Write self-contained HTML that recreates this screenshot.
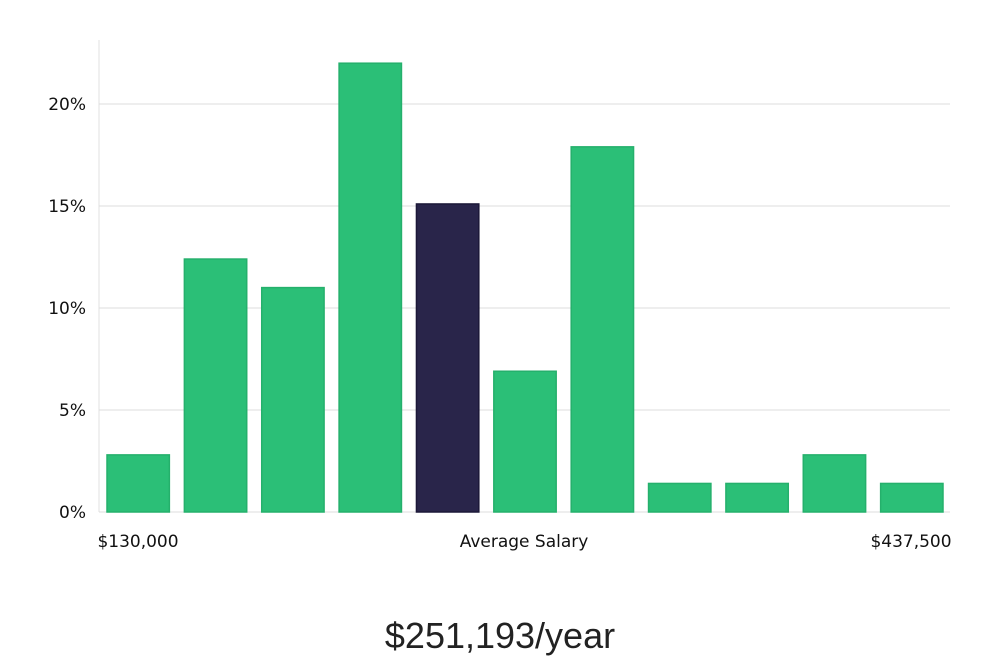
<!DOCTYPE html>
<html><head><meta charset="utf-8"><style>
body{margin:0;background:#fff;width:1000px;height:660px;overflow:hidden;font-family:"DejaVu Sans","Liberation Sans",sans-serif}
</style></head><body>
<svg width="1000" height="660">
<g id="grid"></g><g id="bars"></g><g id="labels"></g>
<text x="500" y="648" text-anchor="middle" font-size="36" fill="#222" font-family="'Liberation Sans',sans-serif" font-weight="300">$251,193/year</text>
</svg>
<script>
const categories=["b1","b2","b3","b4","b5","b6","b7","b8","b9","b10","b11"];
const values=[2.8,12.4,11.0,22.0,15.1,6.9,17.9,1.4,1.4,2.8,1.4];
const highlight=[false,false,false,false,true,false,false,false,false,false,false];
const yTicks=[0,5,10,15,20];
const xLabels=["$130,000","Average Salary","$437,500"];
const NS="http://www.w3.org/2000/svg";
const x0=99,x1=950,y0=512,pxPer=20.4;
const y=v=>y0-v*pxPer;
const band=(x1-x0)/categories.length;
const bx=i=>x0+i*band;
function mk(t,a,p){const e=document.createElementNS(NS,t);for(const k in a)e.setAttribute(k,a[k]);p.appendChild(e);return e;}
const grid=document.getElementById('grid'),bars=document.getElementById('bars'),labels=document.getElementById('labels');
const ax=mk('line',{x1:x0,x2:x0,y1:40,y2:y0,stroke:'#e0e0e0'},grid);


yTicks.forEach(t=>{
 const l=mk('line',{x1:x0,x2:x1,y1:y(t),y2:y(t),stroke:'#dcdcdc'},grid);
 
 
 const tx=mk('text',{x:86,y:y(t)+6,'text-anchor':'end','font-size':17,fill:'#111'},labels);
 tx.textContent=t+'%';
 
 
});
values.forEach((v,i)=>{
 const r=mk('rect',{x:bx(i)+8,y:y(v),width:band-15,height:y0-y(v),fill:highlight[i]?'#29254a':'#2bbf77',stroke:highlight[i]?'#1c1838':'#25b06c','stroke-width':1.5},bars);
 
 
});
const xpos=[[138,'middle'],[524,'middle'],[911,'middle']];
xLabels.forEach((s,i)=>{
 const t=mk('text',{x:xpos[i][0],y:547,'text-anchor':xpos[i][1],'font-size':17,fill:'#111'},labels);
 t.textContent=s;
 
 
});
</script>
</body></html>
